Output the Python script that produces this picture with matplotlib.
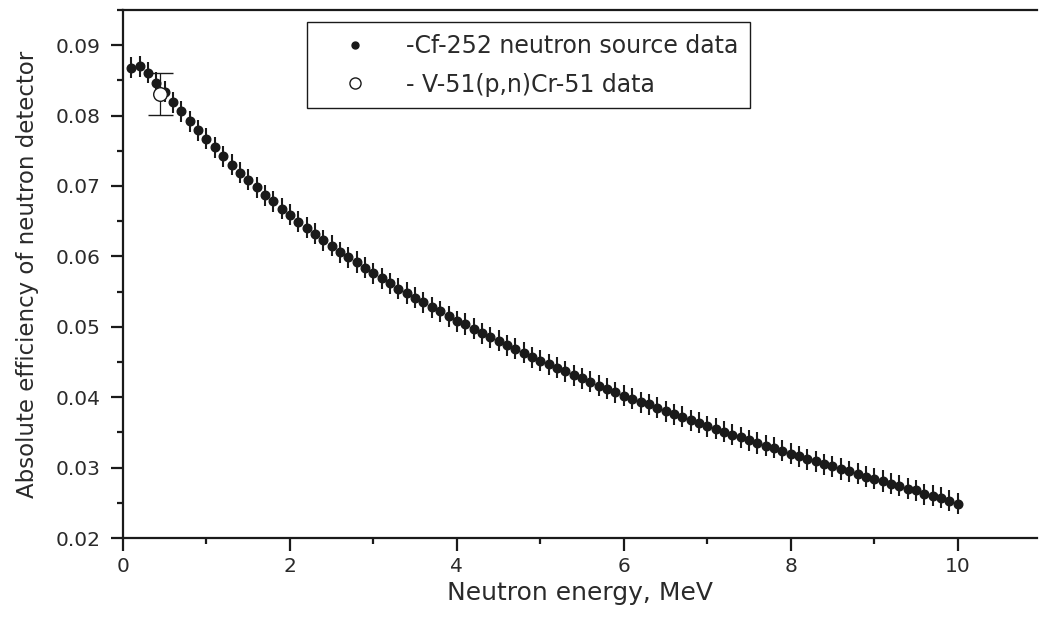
#!/usr/bin/python3

import numpy as np
import matplotlib
matplotlib.use("Agg")
import matplotlib.pyplot as plt
from matplotlib.lines import Line2D

# Cf-252 source calibration (0.1 MeV steps)
energy = [round(0.1 * (i + 1), 1) for i in range(100)]
efficiency = [
    0.0868, 0.0870, 0.0861, 0.0847, 0.0834, 0.0819, 0.0806, 0.0792, 0.0779, 0.0767,
    0.0755, 0.0742, 0.0730, 0.0719, 0.0709, 0.0698, 0.0687, 0.0678, 0.0668, 0.0659,
    0.0649, 0.0641, 0.0632, 0.0623, 0.0615, 0.0606, 0.0599, 0.0592, 0.0584, 0.0576,
    0.0569, 0.0562, 0.0554, 0.0548, 0.0541, 0.0535, 0.0528, 0.0522, 0.0515, 0.0508,
    0.0504, 0.0497, 0.0491, 0.0485, 0.0480, 0.0474, 0.0469, 0.0463, 0.0457, 0.0452,
    0.0447, 0.0442, 0.0437, 0.0431, 0.0427, 0.0422, 0.0416, 0.0412, 0.0407, 0.0402,
    0.0398, 0.0393, 0.0390, 0.0385, 0.0380, 0.0376, 0.0372, 0.0367, 0.0364, 0.0359,
    0.0355, 0.0351, 0.0347, 0.0343, 0.0339, 0.0335, 0.0331, 0.0328, 0.0324, 0.0320,
    0.0316, 0.0312, 0.0309, 0.0305, 0.0302, 0.0298, 0.0295, 0.0291, 0.0287, 0.0284,
    0.0281, 0.0277, 0.0274, 0.0270, 0.0268, 0.0262, 0.0260, 0.0257, 0.0253, 0.0249,
]
efficiency_err = [0.0015] * 100

# V-51(p,n)Cr-51 point
v51_energy = [0.44]
v51_eff = [0.0831]
v51_err = [0.0030]

labels = ["-Cf-252 neutron source data", "- V-51(p,n)Cr-51 data"]
xticks = [0, 2, 4, 6, 8, 10]
yticks = [0.02, 0.03, 0.04, 0.05, 0.06, 0.07, 0.08, 0.09]

INK = "#1a1a1a"
TXT = "#2a2a2a"


def main() -> int:
    plt.rcParams["font.family"] = ["DejaVu Sans"]
    fig = plt.figure(figsize=(10.39, 6.22), dpi=100)
    ax = fig.add_axes([123 / 1039, 1 - 538 / 622, 914 / 1039, 528 / 622])

    ax.errorbar(energy, efficiency, yerr=efficiency_err, fmt="o", ms=6.2,
                color=INK, mec=INK, elinewidth=1.5, capsize=0, zorder=3)
    ax.errorbar(v51_energy, v51_eff, yerr=v51_err, fmt="o", ms=9.8,
                mfc="white", mec=INK, mew=1.0, color=INK, elinewidth=0.9,
                capsize=9, capthick=0.9, zorder=4)

    ax.set_xlim(0, 10.95)
    ax.set_ylim(0.02, 0.095)
    ax.set_xticks(xticks)
    ax.set_xticks([1, 3, 5, 7, 9], minor=True)
    ax.set_yticks(yticks)
    ax.set_yticks(np.arange(0.025, 0.0951, 0.01), minor=True)
    ax.set_xticklabels([str(t) for t in xticks])
    ax.set_yticklabels(["%.2f" % t for t in yticks])

    for s in ["left", "bottom", "top"]:
        ax.spines[s].set_linewidth(1.6)
        ax.spines[s].set_color(INK)
    ax.spines["right"].set_visible(False)
    ax.tick_params(which="both", direction="out", width=1.6, color=INK,
                   labelsize=14.5, labelcolor=TXT, top=False, right=False)
    ax.tick_params(which="major", length=9)
    ax.tick_params(which="minor", length=4.5)
    ax.tick_params(axis="x", which="major", pad=5)
    ax.tick_params(axis="y", which="major", pad=7)

    ax.set_xlabel("Neutron energy, MeV", fontsize=18, color=TXT, labelpad=3)
    ax.set_ylabel("Absolute efficiency of neutron detector", fontsize=16.5,
                  color=TXT, labelpad=12)

    handles = [
        Line2D([], [], ls="none", marker="o", ms=5, color=INK),
        Line2D([], [], ls="none", marker="o", ms=8, mfc="white", mec=INK, mew=1.0),
    ]
    leg = ax.legend(handles, labels, loc="upper left", bbox_to_anchor=(0.201, 0.977),
                    borderaxespad=0, fontsize=17, frameon=True, fancybox=False,
                    framealpha=1, edgecolor=INK, borderpad=0.5, handlelength=3.1,
                    handletextpad=0.6, labelspacing=0.62)
    leg.get_frame().set_linewidth(1.0)
    for t in leg.get_texts():
        t.set_color(TXT)

    fig.savefig("out.png", dpi=100)
    return 0


if (__name__ == "__main__"):
    exit(main())
